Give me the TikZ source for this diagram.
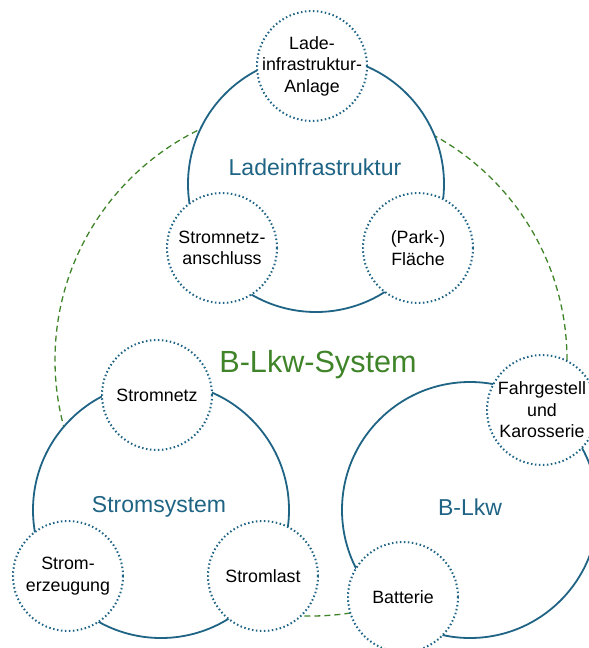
\documentclass[tikz,border=0pt]{standalone}
\usepackage{fontspec}
\setmainfont{Liberation Sans}
\definecolor{lkwblue}{RGB}{31,100,133}
\definecolor{lkwgreen}{RGB}{64,132,42}

\begin{document}
\begin{tikzpicture}[x=1pt,y=-1pt,
    system/.style={circle,draw=lkwblue,line width=1.8pt,fill=white,minimum size=256pt,inner sep=0pt},
    part/.style={circle,draw=lkwblue,line width=2pt,dash pattern=on 1.5pt off 2.5pt,fill=white,minimum size=110pt,inner sep=0pt},
    parttext/.style={align=center,font=\fontsize{17.8}{21.4}\selectfont},
    systext/.style={text=lkwblue,font=\fontsize{23}{27}\selectfont}]
  \useasboundingbox (0,0) rectangle (589,648);
  % outer system
  \node[circle,draw=lkwgreen,line width=1.3pt,dash pattern=on 6pt off 4pt,minimum size=512pt,inner sep=0pt] (blkwsys) at (311,360) {};
  % subsystems
  \node[system] (infra) at (316,184) {};
  \node[system] (strom) at (161,510) {};
  \node[system] (lkw) at (470,510) {};
  \node[systext] (infratitle) at (315,167) {Ladeinfrastruktur};
  \node[systext] (stromtitle) at (159,507) {Stromsystem};
  \node[systext] (lkwtitle) at (470,507) {B-Lkw};
  \node[text=lkwgreen,font=\fontsize{30.6}{36}\selectfont] (systitle) at (318,365) {B-Lkw-System};
  % components
  \node[part,label={[parttext]center:Lade-\\infrastruktur-\\Anlage}] (anlage) at (312,66) {};
  \node[part,label={[parttext]center:Stromnetz-\\anschluss}] (anschluss) at (222,248) {};
  \node[part,label={[parttext]center:(Park-)\\Fläche}] (flaeche) at (418,248) {};
  \node[part,label={[parttext]center:Stromnetz}] (netz) at (157,395) {};
  \node[part,label={[parttext]center:Strom-\\erzeugung}] (erzeugung) at (68,576) {};
  \node[part,label={[parttext]center:Stromlast}] (last) at (263,576) {};
  \node[part,label={[parttext]center:Fahrgestell\\und\\Karosserie}] (fahrgestell) at (542,410) {};
  \node[part,label={[parttext]center:Batterie}] (batterie) at (403,597) {};
\end{tikzpicture}
\end{document}
